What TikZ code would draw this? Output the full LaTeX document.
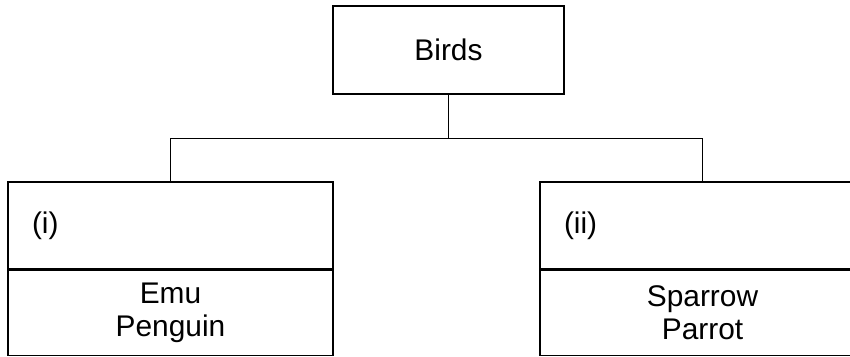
\documentclass[tikz,border=0pt]{standalone}
\usepackage{fontspec}
\setmainfont{Liberation Sans}

\begin{document}
\begin{tikzpicture}[
        bxtop/.style={draw=black,thick,minimum width=4.62cm,minimum height=1.76cm},
        bxhead/.style={draw=black,thick,minimum width=6.5cm,minimum height=1.74cm,
          inner xsep=0.48cm,text width=5.54cm,align=left},
        bxlist/.style={draw=black,thick,minimum width=6.5cm,minimum height=1.7cm,align=center},
        font=\fontsize{17}{19}\selectfont
      ]

      \clip (0,0) rectangle (17,-7.12);

      \node[bxtop] (birds) at (8.97,-1.0) {Birds};
      \node[bxhead] (hdl) at (3.41,-4.51) {(i)};
      \node[bxhead] (hdr) at (14.05,-4.51) {(ii)};
      \node[bxlist,anchor=north] (lsl) at (hdl.south) {Emu\\Penguin};
      \node[bxlist,anchor=north] (lsr) at (hdr.south) {Sparrow\\Parrot};

      \draw[thick] (birds.south) -- ++(0,-0.88) coordinate (fork);
      \draw[thick] (fork) -| (hdl.north);
      \draw[thick] (fork) -| (hdr.north);

    \end{tikzpicture}
\end{document}
